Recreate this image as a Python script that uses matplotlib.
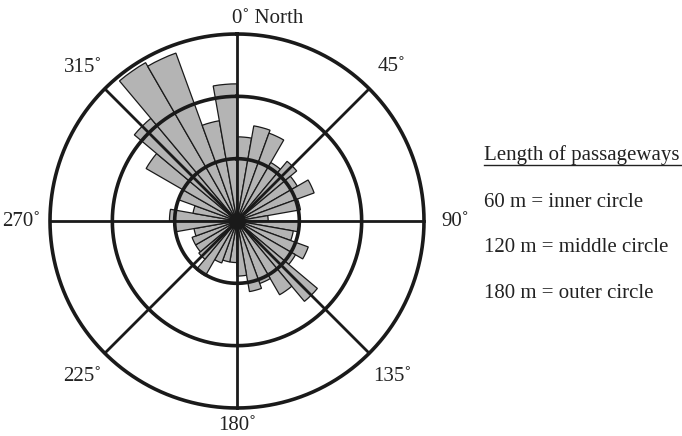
import numpy as np
import matplotlib
matplotlib.use("Agg")
import matplotlib.pyplot as plt
from matplotlib.transforms import offset_copy

plt.rcParams['font.family'] = ['Liberation Serif', 'DejaVu Serif']

# 10-degree bins (start bearing, clockwise from North)
bin_start_deg = list(range(0, 360, 10))
# passageway length per bin (m)
lengths_m = [81, 93, 90, 65, 75, 67, 79, 62, 30,     # 0-90
             60, 55, 73, 65, 101, 82, 64, 69, 53,    # 90-180
             40, 40, 43, 61, 48, 46, 46, 42, 60,     # 180-270
             65, 43, 60, 101, 129, 176, 172, 98, 132]  # 270-360

ring_values = [60, 120, 180]
spoke_deg = [0, 45, 90, 135, 180, 225, 270, 315]
spoke_labels = ["", "45˚", "90˚", "135˚", "180˚", "225˚", "270˚", "315˚"]
legend_title = "Length of passageways"
legend_lines = ["60 m = inner circle", "120 m = middle circle", "180 m = outer circle"]

W, H = 682, 436
fig = plt.figure(figsize=(W / 100, H / 100), dpi=100)
cx, cy, R = 237, 221, 187
ax = fig.add_axes([(cx - R) / W, (H - cy - R) / H, 2 * R / W, 2 * R / H], projection='polar')
ax.set_theta_zero_location('N')
ax.set_theta_direction(-1)
ax.set_ylim(0, 180)
ax.grid(False)
ax.set_xticks([])
ax.set_yticks([])
ax.spines['polar'].set_visible(False)
ax.patch.set_alpha(0)

width = np.deg2rad(10)
theta = np.deg2rad(np.array(bin_start_deg) + 5)
ax.bar(theta, lengths_m, width=width, bottom=0, color='#b4b4b4',
       edgecolor='#1a1a1a', linewidth=0.9, zorder=2)

tt = np.linspace(0, 2 * np.pi, 721)
for rv in ring_values:
    ax.plot(tt, np.full_like(tt, rv), color='#1a1a1a', lw=2.6, zorder=3, clip_on=False)
for sd in spoke_deg:
    a = np.deg2rad(sd)
    ax.plot([a, a], [0, 180], color='#1a1a1a', lw=2.0, zorder=3, clip_on=False)
ax.scatter([0], [0], s=120, color='#1a1a1a', zorder=4)

label_r = {45: 210, 90: 210, 135: 212, 180: 197, 225: 211, 270: 208, 315: 209}
for sd, lab in zip(spoke_deg, spoke_labels):
    if not lab:
        continue
    ax.text(np.deg2rad(sd), label_r[sd], lab, ha='center', va='center',
            fontsize=15, color='#222222', clip_on=False)
tr = offset_copy(ax.transData, fig=fig, x=-4.5, y=0, units='dots')
ax.text(0, 195, "0˚ North", transform=tr, ha='left', va='center',
        fontsize=15, color='#222222', clip_on=False)

fig.text(484 / W, 1 - 155 / H, legend_title, ha='left', va='center', fontsize=15, color='#222222')
fig.add_artist(plt.Line2D([484 / W, 682 / W], [1 - 165 / H, 1 - 165 / H], color='#222222', lw=1.0))
for i, line in enumerate(legend_lines):
    fig.text(484 / W, 1 - (202 + 45.5 * i) / H, line, ha='left', va='center',
             fontsize=15, color='#222222')

fig.savefig("out.png", dpi=100)
